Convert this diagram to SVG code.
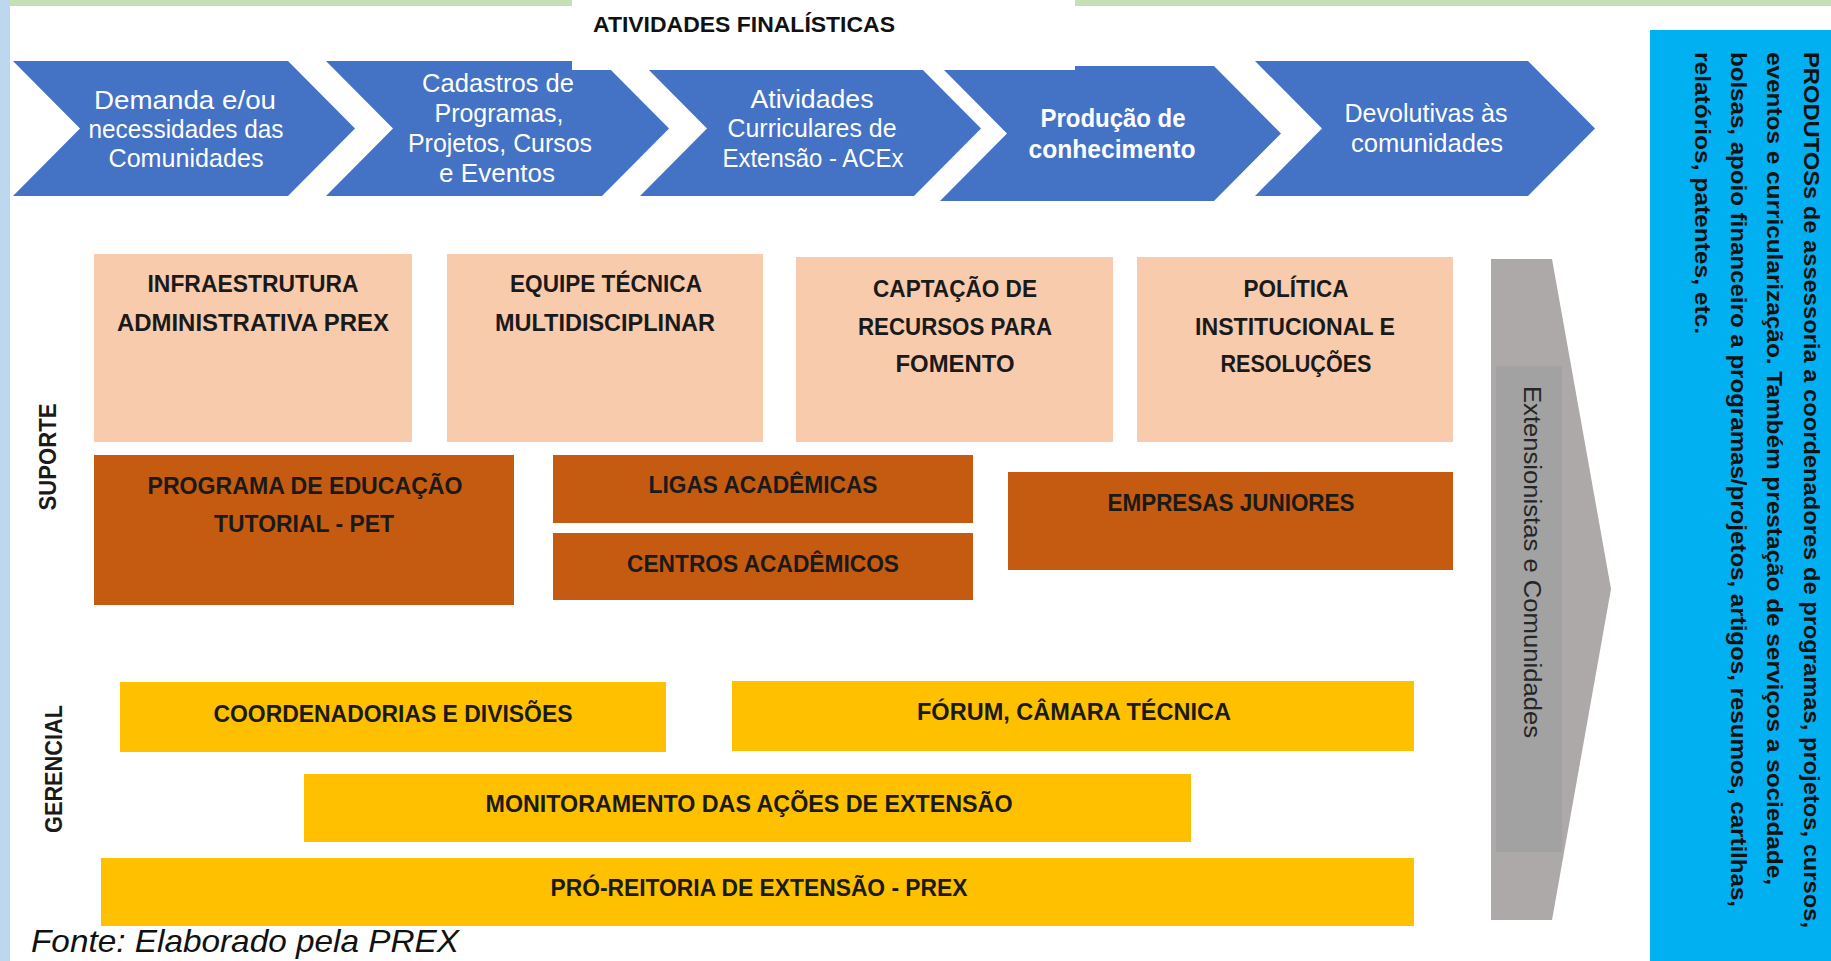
<svg xmlns="http://www.w3.org/2000/svg" width="1831" height="961" viewBox="0 0 1831 961">
<style>
.chev{fill:#4472C4}
.at{font-family:"Liberation Sans",Arial,sans-serif;font-size:25px;fill:#ffffff;text-anchor:middle;dominant-baseline:central}
.bt{font-family:"Liberation Sans",Arial,sans-serif;font-size:24px;font-weight:bold;fill:#1a1a1a;text-anchor:middle;dominant-baseline:central}
.peach{fill:#F8CBAD}
.orange{fill:#C55A11}
.yellow{fill:#FFC000}
.side{font-family:"Liberation Sans",Arial,sans-serif;font-size:23px;font-weight:bold;fill:#1a1a1a;text-anchor:middle;dominant-baseline:central}
.prod{font-family:"Liberation Sans",Arial,sans-serif;font-size:22px;font-weight:bold;fill:#111111;dominant-baseline:central}
</style>
<rect x="0" y="0" width="1831" height="961" fill="#ffffff"/>
<rect x="0" y="0" width="10" height="961" fill="#BDD7EE"/>
<rect x="10" y="0" width="562" height="6" fill="#C5E0B4"/>
<rect x="1075" y="0" width="756" height="6" fill="#C5E0B4"/>

<g id="arrows">
<g id="arrow1"><polygon class="chev" points="13,61 288,61 355,128.5 288,196 13,196 80,128.5"/>
<text class="at" x="185" y="100" textLength="182" lengthAdjust="spacingAndGlyphs">Demanda e/ou</text>
<text class="at" x="186" y="129" textLength="195" lengthAdjust="spacingAndGlyphs">necessidades das</text>
<text class="at" x="186" y="158" textLength="155" lengthAdjust="spacingAndGlyphs">Comunidades</text></g>
<g id="arrow2"><polygon class="chev" points="326,61 602,61 669,128.5 602,196 326,196 393,128.5"/>
<text class="at" x="498" y="83" textLength="152" lengthAdjust="spacingAndGlyphs">Cadastros de</text>
<text class="at" x="499" y="113" textLength="129" lengthAdjust="spacingAndGlyphs">Programas,</text>
<text class="at" x="500" y="143" textLength="184" lengthAdjust="spacingAndGlyphs">Projetos, Cursos</text>
<text class="at" x="497" y="173" textLength="116" lengthAdjust="spacingAndGlyphs">e Eventos</text></g>
<g id="arrow3"><polygon class="chev" points="640,61 914,61 981,128.5 914,196 640,196 707,128.5"/>
<text class="at" x="812" y="99" textLength="123" lengthAdjust="spacingAndGlyphs">Atividades</text>
<text class="at" x="812" y="128" textLength="169" lengthAdjust="spacingAndGlyphs">Curriculares de</text>
<text class="at" x="813" y="158" textLength="181" lengthAdjust="spacingAndGlyphs">Extensão - ACEx</text></g>
<g id="arrow4"><polygon class="chev" points="940,66 1214,66 1281,133.5 1214,201 940,201 1007,133.5"/>
<text class="at" x="1113" y="118" font-weight="bold" textLength="145" lengthAdjust="spacingAndGlyphs">Produção de</text>
<text class="at" x="1112" y="149" font-weight="bold" textLength="167" lengthAdjust="spacingAndGlyphs">conhecimento</text></g>
<g id="arrow5"><polygon class="chev" points="1255,61 1528,61 1595,128.5 1528,196 1255,196 1322,128.5"/>
<text class="at" x="1426" y="113" textLength="163" lengthAdjust="spacingAndGlyphs">Devolutivas às</text>
<text class="at" x="1427" y="143" textLength="152" lengthAdjust="spacingAndGlyphs">comunidades</text></g>
</g>

<g id="title">
<rect x="572" y="0" width="503" height="70" fill="#ffffff"/>
<text x="744" y="24" font-family="Liberation Sans,Arial,sans-serif" font-size="22" font-weight="bold" fill="#111111" text-anchor="middle" dominant-baseline="central" textLength="302" lengthAdjust="spacingAndGlyphs">ATIVIDADES FINALÍSTICAS</text>
</g>

<g id="produtos">
<rect x="1650" y="30" width="181" height="931" fill="#00B0F0"/>
<text class="prod" transform="translate(1811,52) rotate(90)" x="0" y="0" textLength="876" lengthAdjust="spacingAndGlyphs">PRODUTOSs de assessoria a coordenadores de programas, projetos, cursos,</text>
<text class="prod" transform="translate(1774,52) rotate(90)" x="0" y="0" textLength="833" lengthAdjust="spacingAndGlyphs">eventos e curricularização. Também prestação de serviços a sociedade,</text>
<text class="prod" transform="translate(1738,52) rotate(90)" x="0" y="0" textLength="855" lengthAdjust="spacingAndGlyphs">bolsas, apoio financeiro a programas/projetos, artigos, resumos, cartilhas,</text>
<text class="prod" transform="translate(1702,52) rotate(90)" x="0" y="0" textLength="282" lengthAdjust="spacingAndGlyphs">relatórios, patentes, etc.</text>
</g>

<g id="extensionistas">
<polygon points="1491,259 1552,259 1611,589 1552,920 1491,920" fill="#ACA9A8"/>
<rect x="1496" y="366" width="66" height="486" fill="#A3A2A2"/>
<text transform="translate(1532,562) rotate(90)" x="0" y="0" font-family="Liberation Sans,Arial,sans-serif" font-size="23" fill="#262626" text-anchor="middle" dominant-baseline="central" textLength="352" lengthAdjust="spacingAndGlyphs">Extensionistas e Comunidades</text>
</g>

<g id="label-suporte"><text class="side" transform="translate(48,457) rotate(-90)" x="0" y="0" textLength="107" lengthAdjust="spacingAndGlyphs">SUPORTE</text></g>
<g id="label-gerencial"><text class="side" transform="translate(54,769) rotate(-90)" x="0" y="0" textLength="128" lengthAdjust="spacingAndGlyphs">GERENCIAL</text></g>

<g id="infraestrutura"><rect class="peach" x="94" y="254" width="318" height="188"/>
<text class="bt" x="253" y="283" textLength="211" lengthAdjust="spacingAndGlyphs">INFRAESTRUTURA</text>
<text class="bt" x="253" y="322" textLength="272" lengthAdjust="spacingAndGlyphs">ADMINISTRATIVA PREX</text></g>
<g id="equipe"><rect class="peach" x="447" y="254" width="316" height="188"/>
<text class="bt" x="606" y="283" textLength="192" lengthAdjust="spacingAndGlyphs">EQUIPE TÉCNICA</text>
<text class="bt" x="605" y="322" textLength="220" lengthAdjust="spacingAndGlyphs">MULTIDISCIPLINAR</text></g>
<g id="captacao"><rect class="peach" x="796" y="257" width="317" height="185"/>
<text class="bt" x="955" y="288" textLength="164" lengthAdjust="spacingAndGlyphs">CAPTAÇÃO DE</text>
<text class="bt" x="955" y="326" textLength="194" lengthAdjust="spacingAndGlyphs">RECURSOS PARA</text>
<text class="bt" x="955" y="363" textLength="119" lengthAdjust="spacingAndGlyphs">FOMENTO</text></g>
<g id="politica"><rect class="peach" x="1137" y="257" width="316" height="185"/>
<text class="bt" x="1296" y="288" textLength="105" lengthAdjust="spacingAndGlyphs">POLÍTICA</text>
<text class="bt" x="1295" y="326" textLength="200" lengthAdjust="spacingAndGlyphs">INSTITUCIONAL E</text>
<text class="bt" x="1296" y="363" textLength="151" lengthAdjust="spacingAndGlyphs">RESOLUÇÕES</text></g>

<g id="pet"><rect class="orange" x="94" y="455" width="420" height="150"/>
<text class="bt" x="305" y="485" textLength="315" lengthAdjust="spacingAndGlyphs">PROGRAMA DE EDUCAÇÃO</text>
<text class="bt" x="304" y="523" textLength="180" lengthAdjust="spacingAndGlyphs">TUTORIAL - PET</text></g>
<g id="ligas"><rect class="orange" x="553" y="455" width="420" height="68"/>
<text class="bt" x="763" y="484" textLength="229" lengthAdjust="spacingAndGlyphs">LIGAS ACADÊMICAS</text></g>
<g id="centros"><rect class="orange" x="553" y="533" width="420" height="67"/>
<text class="bt" x="763" y="563" textLength="272" lengthAdjust="spacingAndGlyphs">CENTROS ACADÊMICOS</text></g>
<g id="empresas"><rect class="orange" x="1008" y="472" width="445" height="98"/>
<text class="bt" x="1231" y="502" textLength="247" lengthAdjust="spacingAndGlyphs">EMPRESAS JUNIORES</text></g>

<g id="coordenadorias"><rect class="yellow" x="120" y="682" width="546" height="70"/>
<text class="bt" x="393" y="713" textLength="359" lengthAdjust="spacingAndGlyphs">COORDENADORIAS E DIVISÕES</text></g>
<g id="forum"><rect class="yellow" x="732" y="681" width="682" height="70"/>
<text class="bt" x="1074" y="711" textLength="314" lengthAdjust="spacingAndGlyphs">FÓRUM, CÂMARA TÉCNICA</text></g>
<g id="monitoramento"><rect class="yellow" x="304" y="774" width="887" height="68"/>
<text class="bt" x="749" y="803" textLength="527" lengthAdjust="spacingAndGlyphs">MONITORAMENTO DAS AÇÕES DE EXTENSÃO</text></g>
<g id="prex"><rect class="yellow" x="101" y="858" width="1313" height="68"/>
<text class="bt" x="759" y="887" textLength="417" lengthAdjust="spacingAndGlyphs">PRÓ-REITORIA DE EXTENSÃO - PREX</text></g>

<g id="connectors"></g>

<text x="31" y="952" font-family="Liberation Sans,Arial,sans-serif" font-size="32" font-style="italic" fill="#111111" textLength="428" lengthAdjust="spacingAndGlyphs">Fonte: Elaborado pela PREX</text>
</svg>
